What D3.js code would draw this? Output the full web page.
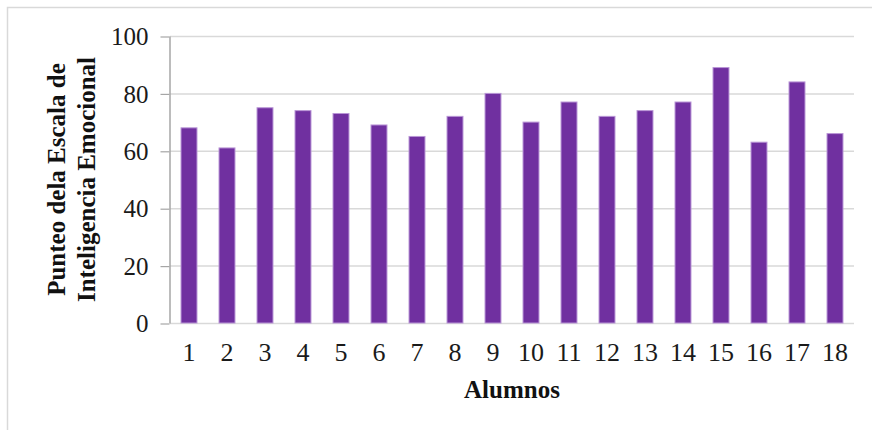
<!DOCTYPE html>
<html>
<head>
<meta charset="utf-8">
<script src="https://cdn.jsdelivr.net/npm/d3@7"></script>
<style>
  html, body { margin: 0; padding: 0; background: #fff; }
  svg { display: block; }
</style>
</head>
<body>
<svg id="chart" width="872" height="430"></svg>
<script>
// Emotional intelligence score per student
const alumnos = ["1","2","3","4","5","6","7","8","9","10","11","12","13","14","15","16","17","18"];
const punteos = [68, 61, 75, 74, 73, 69, 65, 72, 80, 70, 77, 72, 74, 77, 89, 63, 84, 66];
const yTicks = [0, 20, 40, 60, 80, 100];
const yTitleLines = ["Punteo dela Escala de", "Inteligencia Emocional"];
const xTitle = "Alumnos";

const svg = d3.select("#chart");
const serif = "'Liberation Serif', 'Times New Roman', serif";

const plot = { left: 170, right: 854, top: 36, bottom: 323 };

// outer frame
svg.append("path")
  .attr("d", "M7.5,430 L7.5,7.5 L872,7.5")
  .attr("fill", "none")
  .attr("stroke", "#d9d9d9")
  .attr("stroke-width", 1.5);

const x = d3.scaleBand()
  .domain(alumnos)
  .range([plot.left, plot.right])
  .paddingInner(0.58)
  .paddingOuter(0.29);

const y = d3.scaleLinear()
  .domain([0, 100])
  .range([plot.bottom, plot.top]);

// horizontal gridlines
svg.append("g")
  .selectAll("line")
  .data(yTicks)
  .join("line")
  .attr("x1", plot.left)
  .attr("x2", plot.right)
  .attr("y1", d => y(d) + 0.5)
  .attr("y2", d => y(d) + 0.5)
  .attr("stroke", "#d9d9d9")
  .attr("stroke-width", 1.5);

// bars
svg.append("g")
  .selectAll("rect")
  .data(punteos)
  .join("rect")
  .attr("x", (d, i) => x(alumnos[i]))
  .attr("y", d => y(d))
  .attr("width", x.bandwidth())
  .attr("height", d => y(0) - y(d))
  .attr("fill", "#7030a0")
  .attr("stroke", "#b995d6")
  .attr("stroke-width", 1);

// y axis
const yAxis = svg.append("g")
  .attr("transform", `translate(${plot.left - 0.5},0)`)
  .call(d3.axisLeft(y).tickValues(yTicks).tickSize(9).tickPadding(12).tickSizeOuter(0));
yAxis.select(".domain").attr("stroke", "#a6a6a6").attr("stroke-width", 1.5);
yAxis.selectAll(".tick line").attr("stroke", "#a6a6a6").attr("stroke-width", 1.2)
  .attr("transform", "translate(0,0.5)");
yAxis.selectAll(".tick text")
  .attr("font-family", serif)
  .attr("font-size", 25)
  .attr("fill", "#1a1a1a")
  .attr("dy", "0.35em");

// x axis labels
const xAxis = svg.append("g")
  .attr("transform", `translate(0,${plot.bottom})`)
  .call(d3.axisBottom(x).tickSize(0).tickPadding(20));
xAxis.select(".domain").remove();
xAxis.selectAll(".tick text")
  .attr("font-family", serif)
  .attr("font-size", 26)
  .attr("fill", "#1a1a1a");

// x axis title
svg.append("text")
  .attr("x", (plot.left + plot.right) / 2)
  .attr("y", 398)
  .attr("text-anchor", "middle")
  .attr("font-family", serif)
  .attr("font-weight", "bold")
  .attr("font-size", 25)
  .attr("fill", "#111")
  .text(xTitle);

// y axis title (two lines, rotated)
const yTitle = svg.append("text")
  .attr("transform", `translate(65,${(plot.top + plot.bottom) / 2}) rotate(-90)`)
  .attr("text-anchor", "middle")
  .attr("font-family", serif)
  .attr("font-weight", "bold")
  .attr("font-size", 25)
  .attr("fill", "#111");
yTitle.selectAll("tspan")
  .data(yTitleLines)
  .join("tspan")
  .attr("x", 0)
  .attr("y", (d, i) => i * 30)
  .text(d => d);
</script>
</body>
</html>
